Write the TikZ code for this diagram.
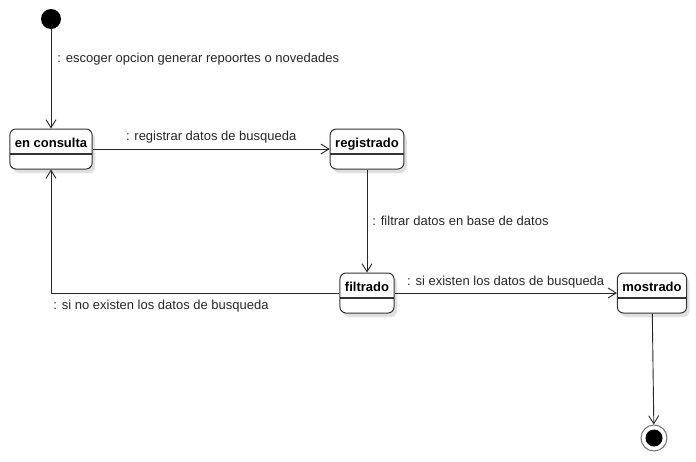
\documentclass[tikz,border=0pt]{standalone}
\usepackage{fontspec}
\setmainfont{Liberation Sans}
\usetikzlibrary{arrows.meta,shadows}
\tikzset{estado/.style={draw=black!80,line width=1pt,rounded corners=6pt,fill=white,inner xsep=5pt,inner ysep=0pt,
    text height=18pt,text depth=22pt,font=\fontsize{13}{15}\selectfont\bfseries,
    drop shadow={shadow xshift=3pt,shadow yshift=-4pt,fill=black!12,opacity=1},
    path picture={\draw[line width=1.8pt,black!80] ([yshift=15pt]path picture bounding box.south west) -- ([yshift=15pt]path picture bounding box.south east);}}}
\tikzset{inicio/.style={circle,fill=black,minimum size=20pt,inner sep=0pt}}
\tikzset{estadofinal/.style={circle,draw=black!55,line width=1pt,minimum size=26pt,inner sep=0pt,
    path picture={\fill (path picture bounding box.center) circle (8.5pt);}}}
\tikzset{etiqueta/.style={font=\fontsize{13}{15}\selectfont,inner sep=2pt}}
\tikzset{transicion/.style={->,black!85,line width=0.9pt}}

\begin{document}
\begin{tikzpicture}[x=1pt,y=-1pt,>={Straight Barb[length=8pt,width=10pt]}]
    \useasboundingbox (0,0) rectangle (696,461);

    \node[inicio] (ini) at (51,19) {};
    \node[estado] (consulta) at (51,149) {en consulta};
    \node[estado] (registrado) at (367,149) {registrado};
    \node[estado] (filtrado) at (367,293) {filtrado};
    \node[estado] (mostrado) at (652,293) {mostrado};
    \node[estadofinal] (fin) at (654,438) {};

    \draw [transicion] (ini) -- node[etiqueta,pos=0.3,right,xshift=4pt]{: escoger opcion generar repoortes o novedades} (consulta);
    \draw [transicion] (consulta) -- node[etiqueta,midway,above,yshift=3pt]{: registrar datos de busqueda} (registrado);
    \draw [transicion] (registrado) -- node[etiqueta,midway,right,xshift=3pt]{: filtrar datos en base de datos} (filtrado);
    \draw [transicion] (filtrado) -| node[etiqueta,pos=0.5,below right,yshift=-5pt]{: si no existen los datos de busqueda} (consulta);
    \draw [transicion] (filtrado) -- node[etiqueta,midway,above,yshift=2pt]{: si existen los datos de busqueda} (mostrado);
    \draw [transicion] (mostrado) -- (fin);
\end{tikzpicture}
\end{document}
